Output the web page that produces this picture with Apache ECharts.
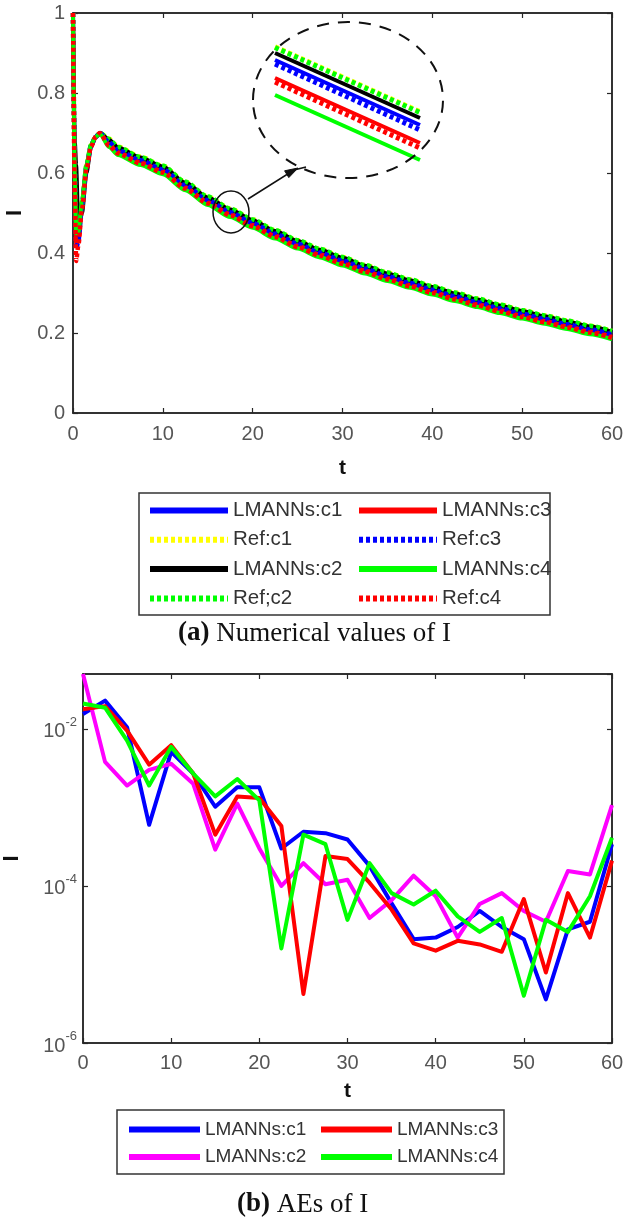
<!DOCTYPE html>
<html><head><meta charset="utf-8">
<script src="https://cdn.jsdelivr.net/npm/echarts@6/dist/echarts.min.js"></script>
<style>html,body{margin:0;padding:0;background:#fff;}#c1{position:absolute;left:0;top:0;width:629px;height:660px;}#c2{position:absolute;left:0;top:660px;width:629px;height:558px;}</style>
</head><body><div id="c1"></div><div id="c2"></div>
<script>
// ---------- Panel (a): numerical values of I ----------
const tI = [0, 0.2, 0.35, 0.6, 1, 1.5, 2, 2.5, 3, 4, 5, 7.5, 10, 12.5, 15, 17.5, 20, 22.5, 25, 27.5, 30, 32.5, 35, 37.5, 40, 42.5, 45, 47.5, 50, 52.5, 55, 57.5, 60];
const lmannC1 = [1.0, 0.62, 0.44, 0.45, 0.53, 0.62, 0.67, 0.69, 0.70, 0.68, 0.66, 0.635, 0.612, 0.572, 0.535, 0.505, 0.478, 0.451, 0.426, 0.404, 0.384, 0.364, 0.345, 0.328, 0.311, 0.295, 0.280, 0.265, 0.251, 0.238, 0.225, 0.212, 0.199];
const refC1 = [1.0, 0.63, 0.45, 0.45, 0.53, 0.62, 0.67, 0.69, 0.70, 0.686, 0.666, 0.641, 0.618, 0.578, 0.541, 0.511, 0.484, 0.457, 0.432, 0.410, 0.390, 0.370, 0.351, 0.334, 0.317, 0.301, 0.286, 0.271, 0.257, 0.244, 0.231, 0.218, 0.205];
const lmannC2 = [1.0, 0.68, 0.62, 0.46, 0.50, 0.60, 0.665, 0.69, 0.70, 0.684, 0.664, 0.639, 0.616, 0.576, 0.539, 0.509, 0.482, 0.455, 0.430, 0.408, 0.388, 0.368, 0.349, 0.332, 0.315, 0.299, 0.284, 0.269, 0.255, 0.242, 0.229, 0.216, 0.203];
const refC2 = [1.0, 0.61, 0.44, 0.44, 0.52, 0.62, 0.67, 0.69, 0.70, 0.685, 0.665, 0.640, 0.618, 0.578, 0.541, 0.511, 0.484, 0.457, 0.432, 0.410, 0.390, 0.370, 0.351, 0.334, 0.317, 0.301, 0.286, 0.271, 0.257, 0.244, 0.231, 0.218, 0.205];
const lmannC3 = [1.0, 0.60, 0.42, 0.43, 0.52, 0.61, 0.665, 0.688, 0.698, 0.672, 0.652, 0.627, 0.604, 0.564, 0.527, 0.497, 0.470, 0.443, 0.418, 0.396, 0.376, 0.356, 0.337, 0.320, 0.303, 0.287, 0.272, 0.257, 0.243, 0.230, 0.217, 0.204, 0.191];
const refC3 = [1.0, 0.61, 0.41, 0.43, 0.52, 0.615, 0.668, 0.69, 0.70, 0.677, 0.657, 0.632, 0.609, 0.569, 0.532, 0.502, 0.475, 0.448, 0.423, 0.401, 0.381, 0.361, 0.342, 0.325, 0.308, 0.292, 0.277, 0.262, 0.248, 0.235, 0.222, 0.209, 0.196];
const lmannC4 = [1.0, 0.60, 0.45, 0.45, 0.53, 0.62, 0.67, 0.69, 0.698, 0.665, 0.645, 0.620, 0.597, 0.557, 0.520, 0.490, 0.463, 0.436, 0.411, 0.389, 0.369, 0.349, 0.330, 0.313, 0.296, 0.280, 0.265, 0.250, 0.236, 0.223, 0.210, 0.197, 0.184];
const refC4 = [1.0, 0.55, 0.38, 0.42, 0.51, 0.61, 0.665, 0.69, 0.70, 0.669, 0.649, 0.624, 0.601, 0.561, 0.524, 0.494, 0.467, 0.440, 0.415, 0.393, 0.373, 0.353, 0.334, 0.317, 0.300, 0.284, 0.269, 0.254, 0.240, 0.227, 0.214, 0.201, 0.188];
// zoomed inset (magnified segment, inset's own 0..100 scale)
const insetX = [0, 1];
const insetRefC1 = [94.8, 44.8];
const insetRefC2 = [94.2, 44.2];
const insetLmannC2 = [90, 40];
const insetLmannC1 = [84.6, 34.6];
const insetRefC3 = [81.5, 30.8];
const insetLmannC3 = [70.8, 20.8];
const insetRefC4 = [67.7, 16.9];
const insetLmannC4 = [57.7, 7.7];
const xTicksA = [0, 60, 10];
const yTicksA = [0, 1, 0.2];

// ---------- Panel (b): AEs of I ----------
const tAE = [0, 2.5, 5, 7.5, 10, 12.5, 15, 17.5, 20, 22.5, 25, 27.5, 30, 32.5, 35, 37.5, 40, 42.5, 45, 47.5, 50, 52.5, 55, 57.5, 60];
const aeC1 = [1.55e-2, 2.29e-2, 1.05e-2, 6.0e-4, 5.1e-3, 2.7e-3, 1.02e-3, 1.8e-3, 1.8e-3, 3.0e-4, 4.9e-4, 4.7e-4, 3.9e-4, 1.8e-4, 6.0e-5, 2.1e-5, 2.2e-5, 3.0e-5, 4.8e-5, 3.0e-5, 2.1e-5, 3.6e-6, 2.8e-5, 3.5e-5, 3.4e-4];
const aeC2 = [5.0e-2, 3.8e-3, 1.9e-3, 3.0e-3, 3.6e-3, 2.0e-3, 2.9e-4, 1.12e-3, 3.0e-4, 1.0e-4, 1.95e-4, 1.05e-4, 1.2e-4, 3.9e-5, 6.6e-5, 1.35e-4, 7.4e-5, 2.2e-5, 5.9e-5, 8.1e-5, 4.8e-5, 3.5e-5, 1.55e-4, 1.4e-4, 1.07e-3];
const aeC3 = [1.78e-2, 1.95e-2, 9.5e-3, 3.5e-3, 6.2e-3, 2.7e-3, 4.5e-4, 1.38e-3, 1.32e-3, 5.8e-4, 4.2e-6, 2.4e-4, 2.2e-4, 1.1e-4, 5.0e-5, 1.86e-5, 1.5e-5, 2.0e-5, 1.8e-5, 1.45e-5, 6.8e-5, 7.9e-6, 8.1e-5, 2.2e-5, 2.1e-4];
const aeC4 = [2.1e-2, 1.86e-2, 7.1e-3, 1.9e-3, 5.9e-3, 2.7e-3, 1.38e-3, 2.3e-3, 1.23e-3, 1.6e-5, 4.5e-4, 3.4e-4, 3.7e-5, 1.95e-4, 8.1e-5, 5.8e-5, 8.7e-5, 4.1e-5, 2.6e-5, 3.9e-5, 4.0e-6, 3.7e-5, 2.6e-5, 7.4e-5, 4.1e-4];
const yRangeB = [1e-6, 0.05];

const SANS = 'Liberation Sans, Arial, Helvetica, sans-serif';
const SERIF = 'Liberation Serif, Times New Roman, serif';
const AX = '#262626';
const LAB = '#555';
const DOT = [4, 3];

function pairs(xs, ys) { return xs.map((x, i) => [x, ys[i]]); }

function boxAxes(gridIndex, isY, base) {
  const common = {
    gridIndex: gridIndex,
    axisLine: { show: true, onZero: false, lineStyle: { color: AX, width: 1.5 } },
    axisTick: { show: true, inside: true, length: 5, lineStyle: { color: AX, width: 1.2 } },
    splitLine: { show: false },
  };
  const main = Object.assign({}, common, base);
  const mirror = Object.assign({}, common, base, {
    position: isY ? 'right' : 'top',
    axisLabel: { show: false }, name: '',
  });
  return [main, mirror];
}

// ---------------- Chart 1 ----------------
const c1 = echarts.init(document.getElementById('c1'), null, { renderer: 'canvas' });
const solid = (w) => ({ width: w, type: 'solid' });
const dotted = (w) => ({ width: w, type: DOT, cap: 'butt' });
const mainSeries = [
  ['LMANNs:c1', lmannC1, '#0000ff', solid(4)],
  ['Ref:c1', refC1, '#ffff00', dotted(4.5)],
  ['LMANNs:c2', lmannC2, '#000000', solid(4)],
  ['Ref;c2', refC2, '#00ff00', dotted(4.5)],
  ['LMANNs:c3', lmannC3, '#ff0000', solid(4)],
  ['Ref:c3', refC3, '#0000ff', dotted(4.5)],
  ['LMANNs:c4', lmannC4, '#00ff00', solid(4)],
  ['Ref:c4', refC4, '#ff0000', dotted(4.5)],
];
const insetSeries = [
  ['LMANNs:c1', insetLmannC1, '#0000ff', solid(4)],
  ['Ref:c1', insetRefC1, '#ffff00', dotted(5)],
  ['LMANNs:c2', insetLmannC2, '#000000', solid(4)],
  ['Ref;c2', insetRefC2, '#00ff00', dotted(5)],
  ['LMANNs:c3', insetLmannC3, '#ff0000', solid(4)],
  ['Ref:c3', insetRefC3, '#0000ff', dotted(5)],
  ['LMANNs:c4', insetLmannC4, '#00ff00', solid(4)],
  ['Ref:c4', insetRefC4, '#ff0000', dotted(5)],
];
const s1 = mainSeries.map(([n, d, c, ls]) => ({
  name: n, type: 'line', xAxisIndex: 0, yAxisIndex: 0, data: pairs(tI, d),
  symbol: 'none', smooth: 0.25, smoothMonotone: 'x', color: c,
  lineStyle: Object.assign({ color: c }, ls), animation: false,
}));
insetSeries.forEach(([n, d, c, ls]) => s1.push({
  name: 'inset ' + n, type: 'line', xAxisIndex: 2, yAxisIndex: 2, data: pairs(insetX, d),
  symbol: 'none', color: c, lineStyle: Object.assign({ color: c }, ls), animation: false,
}));

const xA = boxAxes(0, false, {
  type: 'value', min: xTicksA[0], max: xTicksA[1], interval: xTicksA[2],
  axisLabel: { fontSize: 20, color: LAB, margin: 11, fontFamily: SANS },
  name: 't', nameLocation: 'middle', nameGap: 45,
  nameTextStyle: { fontSize: 21, fontWeight: 'bold', color: '#111', fontFamily: SANS },
});
const yA = boxAxes(0, true, {
  type: 'value', min: yTicksA[0], max: yTicksA[1], interval: yTicksA[2],
  axisLabel: { fontSize: 20, color: LAB, margin: 8, fontFamily: SANS },
  name: 'I', nameLocation: 'middle', nameGap: 46,
  nameTextStyle: { fontSize: 22, fontWeight: 'bold', color: '#111', fontFamily: SANS },
});
const legendText = (fs) => ({ fontSize: fs, color: '#333', fontFamily: SANS });

c1.setOption({
  animation: false,
  backgroundColor: '#fff',
  grid: [
    { left: 73, top: 13, width: 539, height: 400, show: true, borderColor: AX, borderWidth: 1.5, backgroundColor: 'transparent', containLabel: false, outerBoundsMode: 'none' },
    { left: 275, top: 40, width: 145, height: 130, show: false, outerBoundsMode: 'none' },
  ],
  xAxis: xA.concat([{ gridIndex: 1, type: 'value', min: 0, max: 1, show: false }]),
  yAxis: yA.concat([{ gridIndex: 1, type: 'value', min: 0, max: 100, show: false }]),
  legend: [
    { orient: 'vertical', left: 142, top: 495, itemWidth: 78, itemHeight: 20, itemGap: 8.3,
      data: ['LMANNs:c1', 'Ref:c1', 'LMANNs:c2', 'Ref;c2'], textStyle: legendText(20.5),
      lineStyle: { width: 6 }, itemStyle: { opacity: 0 } },
    { orient: 'vertical', left: 351, top: 495, itemWidth: 78, itemHeight: 20, itemGap: 8.3,
      data: ['LMANNs:c3', 'Ref:c3', 'LMANNs:c4', 'Ref:c4'], textStyle: legendText(20.5),
      lineStyle: { width: 6 }, itemStyle: { opacity: 0 } },
  ],
  title: {
    text: '{b|(a)} Numerical values of I', left: 178, top: 620, padding: 0,
    textStyle: { fontSize: 27, fontWeight: 'normal', color: '#111', fontFamily: SERIF,
      rich: { b: { fontSize: 27, fontWeight: 'bold', color: '#111', fontFamily: SERIF } } },
  },
  graphic: [
    { type: 'rect', shape: { x: 139, y: 493, width: 411, height: 122 }, style: { fill: 'none', stroke: '#333', lineWidth: 1.5 }, z: 100 },
    { type: 'ellipse', shape: { cx: 348, cy: 100, rx: 95, ry: 78 }, style: { fill: 'none', stroke: '#111', lineWidth: 2, lineDash: [12, 9] }, z: 100 },
    { type: 'ellipse', shape: { cx: 231, cy: 212, rx: 18, ry: 21 }, style: { fill: 'none', stroke: '#111', lineWidth: 1.5 }, z: 100 },
    { type: 'polyline', shape: { points: [[248, 199], [294, 170], [306, 167]] }, style: { fill: 'none', stroke: '#111', lineWidth: 1.5 }, z: 100 },
    { type: 'polygon', shape: { points: [[298, 168], [288.8, 177.6], [284.6, 170.8]] }, style: { fill: '#111', stroke: '#111', lineWidth: 1 }, z: 100 },
  ],
  series: s1,
});

// ---------------- Chart 2 ----------------
const c2 = echarts.init(document.getElementById('c2'), null, { renderer: 'canvas' });
const xB = boxAxes(0, false, {
  type: 'value', min: xTicksA[0], max: xTicksA[1], interval: xTicksA[2],
  axisLabel: { fontSize: 20, color: LAB, margin: 10, fontFamily: SANS },
  name: 't', nameLocation: 'middle', nameGap: 38,
  nameTextStyle: { fontSize: 21, fontWeight: 'bold', color: '#111', fontFamily: SANS },
});
const yB = boxAxes(0, true, {
  type: 'log', logBase: 100, min: yRangeB[0], max: yRangeB[1], interval: 1, splitNumber: 2,
  axisLabel: {
    margin: 6, showMaxLabel: false,
    formatter: function (v) {
      const e = Math.log10(v); const r = Math.round(e);
      if (Math.abs(e - r) > 0.01 || r % 2 !== 0) return '';
      return '{b|10}{s|' + r + '}';
    },
    rich: {
      b: { fontSize: 20, color: LAB, fontFamily: SANS, lineHeight: 26, verticalAlign: 'bottom' },
      s: { fontSize: 13, color: LAB, fontFamily: SANS, lineHeight: 14, verticalAlign: 'top' },
    },
  },
  name: 'I', nameLocation: 'middle', nameGap: 60,
  nameTextStyle: { fontSize: 22, fontWeight: 'bold', color: '#111', fontFamily: SANS },
});
const aeSeries = [
  ['LMANNs:c1', aeC1, '#0000ff'],
  ['LMANNs:c2', aeC2, '#ff00ff'],
  ['LMANNs:c3', aeC3, '#ff0000'],
  ['LMANNs:c4', aeC4, '#00ff00'],
];
c2.setOption({
  animation: false,
  backgroundColor: '#fff',
  grid: { left: 83, top: 14, width: 529, height: 369, show: true, borderColor: AX, borderWidth: 1.5, containLabel: false, outerBoundsMode: 'none' },
  xAxis: xB, yAxis: yB,
  legend: [
    { orient: 'vertical', left: 121, top: 455, itemWidth: 71, itemHeight: 20, itemGap: 8.5,
      data: ['LMANNs:c1', 'LMANNs:c2'], textStyle: legendText(19),
      lineStyle: { width: 6 }, itemStyle: { opacity: 0 } },
    { orient: 'vertical', left: 313, top: 455, itemWidth: 71, itemHeight: 20, itemGap: 8.5,
      data: ['LMANNs:c3', 'LMANNs:c4'], textStyle: legendText(19),
      lineStyle: { width: 6 }, itemStyle: { opacity: 0 } },
  ],
  title: {
    text: '{b|(b)} AEs of I', left: 237, top: 531, padding: 0,
    textStyle: { fontSize: 27, fontWeight: 'normal', color: '#111', fontFamily: SERIF,
      rich: { b: { fontSize: 27, fontWeight: 'bold', color: '#111', fontFamily: SERIF } } },
  },
  graphic: [
    { type: 'rect', shape: { x: 117, y: 450, width: 387, height: 64 }, style: { fill: 'none', stroke: '#333', lineWidth: 1.5 }, z: 100 },
  ],
  series: aeSeries.map(([n, d, c]) => ({
    name: n, type: 'line', data: pairs(tAE, d), symbol: 'none', color: c,
    lineStyle: { color: c, width: 4, join: 'round' }, animation: false,
  })),
});
</script></body></html>
